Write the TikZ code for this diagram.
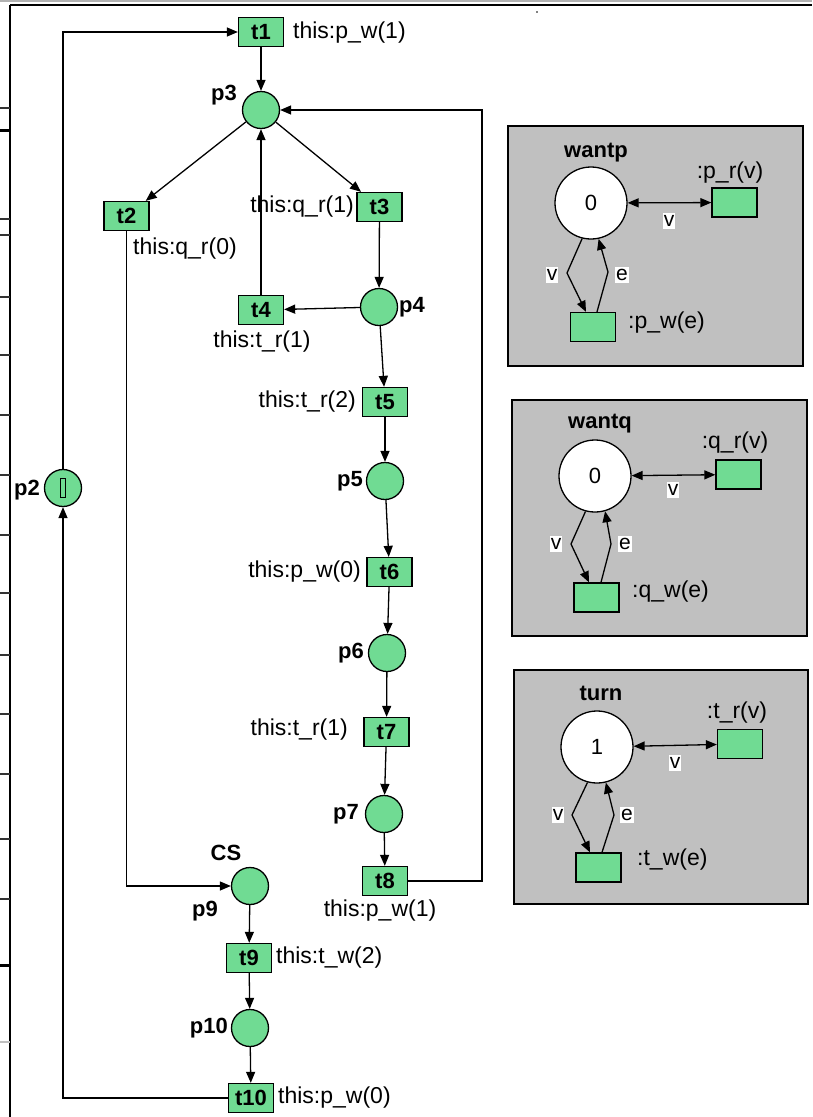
\documentclass[tikz,border=0pt]{standalone}
\usepackage{fontspec}
\setmainfont{Liberation Sans}
\usetikzlibrary{arrows.meta}
\definecolor{pn}{HTML}{70DB93}
\definecolor{panelgray}{HTML}{C0C0C0}
\tikzset{
  place/.style={circle, draw, fill=pn, minimum size=37pt, inner sep=0pt, line width=1.3pt},
  trans/.style={rectangle, draw, fill=pn, minimum width=45pt, minimum height=29pt, inner sep=0pt, line width=1.3pt, font=\bfseries\fontsize{22}{22}\selectfont},
  ptrans/.style={rectangle, draw, fill=pn, minimum width=45pt, minimum height=29pt, inner sep=0pt, line width=1.3pt},
  wplace/.style={circle, draw, fill=white, minimum size=72pt, inner sep=0pt, line width=1.3pt, font=\fontsize{22}{22}\selectfont},
  lab/.style={font=\fontsize{23}{23}\selectfont, inner sep=0pt},
  blab/.style={font=\bfseries\fontsize{22}{22}\selectfont, inner sep=0pt},
  elab/.style={fill=white, inner xsep=1pt, inner ysep=2.5pt, font=\fontsize{21}{21}\selectfont},
  arc/.style={draw, line width=1.3pt, -{Triangle[length=11pt,width=9pt]}},
  darc/.style={draw, line width=1.3pt, {Triangle[length=11pt,width=9pt]}-{Triangle[length=11pt,width=9pt]}},
  panel/.style={draw, fill=panelgray, line width=1.5pt},
  frame/.style={line width=2.6pt, black},
  tick/.style={line width=1.5pt, black!80}
}
\begin{document}
\begin{tikzpicture}[x=1pt, y=-1pt]
\useasboundingbox (0,0) rectangle (812,1117);
% window frame artifacts
\draw[line width=1.5pt, black!30] (0,1) -- (812,1);
\draw[frame] (10,5) -- (812,5);
\draw[frame] (10,5) -- (10,1117);
\foreach \yy in {108,219,235,297,355,415,475,535,593,655,714,774,839,899}
  \draw[tick] (0,\yy) -- (10,\yy);
\draw[line width=3pt] (0,130) -- (10,130);
\draw[line width=3pt] (0,965) -- (10,965);
\draw[line width=2.5pt, black!25] (0,1042) -- (10,1042);
\fill (537,12) circle (0.9pt);

% ---------- main net ----------
\node[trans] (t1) at (261,32) {t1};
\node[lab, anchor=west] (l1) at (293,33) {this:p\_w(1)};
\node[place] (p3) at (261,110) {};
\node[blab] (n3) at (224,95) {p3};
\node[trans] (t2) at (126.5,216) {t2};
\node[lab] (l2) at (185,249) {this:q\_r(0)};
\node[trans] (t3) at (379.5,207) {t3};
\node[lab, anchor=east] (l3) at (354,207) {this:q\_r(1)};
\node[trans] (t4) at (261,310) {t4};
\node[lab] (l4) at (262,342) {this:t\_r(1)};
\node[place] (p4) at (379,307) {};
\node[blab, anchor=west] (n4) at (399,307) {p4};
\node[trans] (t5) at (385,402) {t5};
\node[lab, anchor=east] (l5) at (356,402) {this:t\_r(2)};
\node[place] (p5) at (385,481) {};
\node[blab, anchor=east] (n5) at (363,481) {p5};
\node[trans] (t6) at (389.5,572) {t6};
\node[lab, anchor=east] (l6) at (361,572) {this:p\_w(0)};
\node[place] (p6) at (387,653) {};
\node[blab, anchor=east] (n6) at (364,653) {p6};
\node[trans] (t7) at (386.5,732) {t7};
\node[lab, anchor=east] (l7) at (348,730) {this:t\_r(1)};
\node[place] (p7) at (384,814) {};
\node[blab, anchor=east] (n7) at (359,814) {p7};
\node[trans] (t8) at (385,881) {t8};
\node[lab] (l8) at (380,911) {this:p\_w(1)};
\node[place] (p9) at (250,886) {};
\node[blab] (cs) at (226,853) {CS};
\node[blab] (n9) at (205,911) {p9};
\node[trans] (t9) at (249,958) {t9};
\node[lab, anchor=west] (l9) at (276,958) {this:t\_w(2)};
\node[place] (p10) at (250,1028) {};
\node[blab, anchor=east] (n10) at (228,1028) {p10};
\node[trans] (t10) at (251,1098) {t10};
\node[lab, anchor=west] (l10) at (278,1098) {this:p\_w(0)};
\node[place] (p2) at (63,488) {};
\node[draw, line width=1.2pt, minimum width=5pt, minimum height=19pt, inner sep=0pt] (p2m) at (p2) {};
\node[blab, anchor=east] (n2) at (40,490) {p2};
\coordinate (r8) at (482,881);

\draw[arc] (t1) -- (p3);
\draw[arc] (p3) -- (t2);
\draw[arc] (p3) -- (t3);
\draw[arc] (t3) -- (p4);
\draw[arc] (p4) -- (t4);
\draw[arc] (t4) -- (p3);
\draw[arc] (p4) -- (t5);
\draw[arc] (t5) -- (p5);
\draw[arc] (p5) -- (t6);
\draw[arc] (t6) -- (p6);
\draw[arc] (p6) -- (t7);
\draw[arc] (t7) -- (p7);
\draw[arc] (p7) -- (t8);
\draw[arc] (t8) -- (r8) |- (p3);
\draw[arc] (t2) |- (p9);
\draw[arc] (p9) -- (t9);
\draw[arc] (t9) -- (p10);
\draw[arc] (p10) -- (t10);
\draw[arc] (t10) -| (p2);
\draw[arc] (p2) |- (t1);

% ---------- panel wantp ----------
\node[panel, minimum width=295pt, minimum height=240pt, anchor=north west, inner sep=0pt] (P1) at (507,125) {};
\node[blab] (h1) at (596,153) {wantp};
\node[wplace] (wp) at (591,203) {0};
\node[ptrans] (pr) at (734.5,202.5) {};
\node[lab] (lpr) at (730,173) {:p\_r(v)};
\node[ptrans] (pw) at (593,327) {};
\node[lab, anchor=west] (lpw) at (628,323) {:p\_w(e)};
\coordinate (b1v) at (567,273);
\coordinate (b1e) at (608,272);
\draw[darc] (wp) -- (pr);
\node[elab] (v1) at (669,221) {v};
\draw[arc] (wp.-104) -- (b1v) -- ([xshift=-7pt]pw.north);
\draw[arc] ([xshift=4pt]pw.north) -- (b1e) -- (wp.-78);
\node[elab] (v1b) at (552,275) {v};
\node[elab] (e1) at (622,275) {e};

% ---------- panel wantq ----------
\node[panel, minimum width=295pt, minimum height=236pt, anchor=north west, inner sep=0pt] (P2) at (511,399) {};
\node[blab] (h2) at (600,424) {wantq};
\node[wplace] (wq) at (595,476) {0};
\node[ptrans] (qr) at (738.5,474.5) {};
\node[lab] (lqr) at (735,443) {:q\_r(v)};
\node[ptrans] (qw) at (596.5,597.5) {};
\node[lab, anchor=west] (lqw) at (632,592) {:q\_w(e)};
\coordinate (b2v) at (571,544);
\coordinate (b2e) at (611,544);
\draw[darc] (wq) -- (qr);
\node[elab] (v2) at (673,490) {v};
\draw[arc] (wq.-105) -- (b2v) -- ([xshift=-7.5pt]qw.north);
\draw[arc] ([xshift=4.5pt]qw.north) -- (b2e) -- (wq.-74);
\node[elab] (v2b) at (556,544) {v};
\node[elab] (e2) at (625,544) {e};

% ---------- panel turn ----------
\node[panel, minimum width=294pt, minimum height=234pt, anchor=north west, inner sep=0pt] (P3) at (513,669) {};
\node[blab] (h3) at (601,693) {turn};
\node[wplace] (tu) at (597,747) {1};
\node[ptrans] (tr) at (740,744) {};
\node[lab] (ltr) at (737,713) {:t\_r(v)};
\node[ptrans] (tw) at (598.5,867.5) {};
\node[lab, anchor=west] (ltw) at (637,860) {:t\_w(e)};
\coordinate (b3v) at (572,815);
\coordinate (b3e) at (614,815);
\draw[darc] (tu) -- (tr);
\node[elab] (v3) at (675,763) {v};
\draw[arc] (tu.-105) -- (b3v) -- ([xshift=-8.5pt]tw.north);
\draw[arc] ([xshift=3.5pt]tw.north) -- (b3e) -- (tu.-76);
\node[elab] (v3b) at (558,815) {v};
\node[elab] (e3) at (627,815) {e};
\end{tikzpicture}
\end{document}
